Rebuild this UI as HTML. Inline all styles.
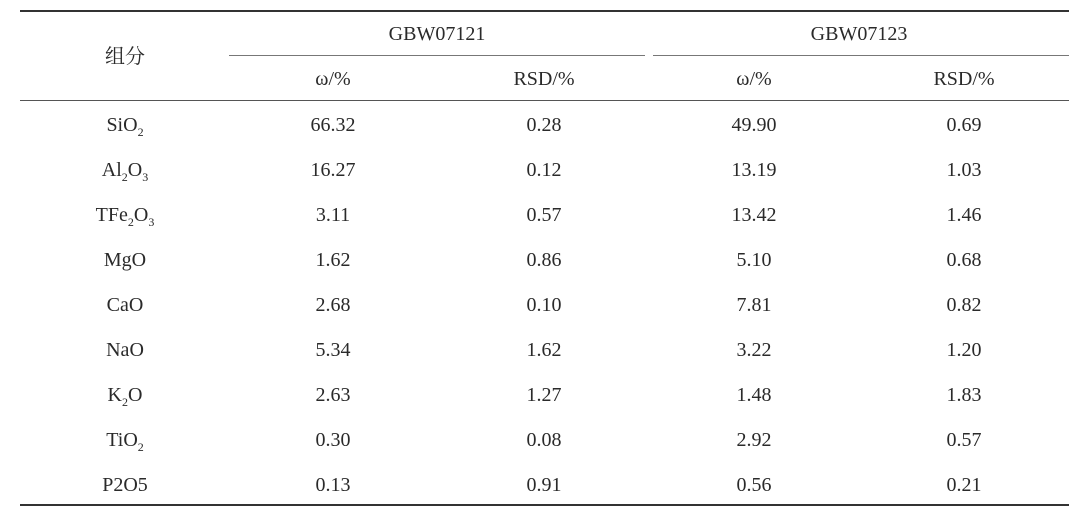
<!DOCTYPE html>
<html><head><meta charset="utf-8"><style>
body{margin:0;width:1080px;height:522px;background:#fff;position:relative;overflow:hidden;font-family:"Liberation Serif","Noto Serif CJK SC",serif;color:#2a2a2a;font-size:20px}
.l{position:absolute;background:#333}
.t{position:absolute;transform:translate(-50%,-50%);white-space:nowrap;line-height:1}
sub{font-size:12px;vertical-align:-5px;line-height:0}
</style></head><body>
<div class="l" style="left:20px;top:10px;width:1049px;height:2px"></div>
<div class="l" style="left:229px;top:55px;width:416px;height:1px;background:#777"></div>
<div class="l" style="left:653px;top:55px;width:416px;height:1px;background:#777"></div>
<div class="l" style="left:20px;top:100px;width:1049px;height:1px;background:#555"></div>
<div class="l" style="left:20px;top:504px;width:1049px;height:2px"></div>
<div class="t" style="left:125px;top:57px">组分</div>
<div class="t" style="left:437px;top:34px">GBW07121</div>
<div class="t" style="left:859px;top:34px">GBW07123</div>
<div class="t" style="left:333px;top:79px">ω/%</div>
<div class="t" style="left:544px;top:79px">RSD/%</div>
<div class="t" style="left:754px;top:79px">ω/%</div>
<div class="t" style="left:964px;top:79px">RSD/%</div>
<div class="t" style="left:125px;top:125px">SiO<sub>2</sub></div><div class="t" style="left:333px;top:125px">66.32</div><div class="t" style="left:544px;top:125px">0.28</div><div class="t" style="left:754px;top:125px">49.90</div><div class="t" style="left:964px;top:125px">0.69</div>
<div class="t" style="left:125px;top:170px">Al<sub>2</sub>O<sub>3</sub></div><div class="t" style="left:333px;top:170px">16.27</div><div class="t" style="left:544px;top:170px">0.12</div><div class="t" style="left:754px;top:170px">13.19</div><div class="t" style="left:964px;top:170px">1.03</div>
<div class="t" style="left:125px;top:215px">TFe<sub>2</sub>O<sub>3</sub></div><div class="t" style="left:333px;top:215px">3.11</div><div class="t" style="left:544px;top:215px">0.57</div><div class="t" style="left:754px;top:215px">13.42</div><div class="t" style="left:964px;top:215px">1.46</div>
<div class="t" style="left:125px;top:260px">MgO</div><div class="t" style="left:333px;top:260px">1.62</div><div class="t" style="left:544px;top:260px">0.86</div><div class="t" style="left:754px;top:260px">5.10</div><div class="t" style="left:964px;top:260px">0.68</div>
<div class="t" style="left:125px;top:305px">CaO</div><div class="t" style="left:333px;top:305px">2.68</div><div class="t" style="left:544px;top:305px">0.10</div><div class="t" style="left:754px;top:305px">7.81</div><div class="t" style="left:964px;top:305px">0.82</div>
<div class="t" style="left:125px;top:350px">NaO</div><div class="t" style="left:333px;top:350px">5.34</div><div class="t" style="left:544px;top:350px">1.62</div><div class="t" style="left:754px;top:350px">3.22</div><div class="t" style="left:964px;top:350px">1.20</div>
<div class="t" style="left:125px;top:395px">K<sub>2</sub>O</div><div class="t" style="left:333px;top:395px">2.63</div><div class="t" style="left:544px;top:395px">1.27</div><div class="t" style="left:754px;top:395px">1.48</div><div class="t" style="left:964px;top:395px">1.83</div>
<div class="t" style="left:125px;top:440px">TiO<sub>2</sub></div><div class="t" style="left:333px;top:440px">0.30</div><div class="t" style="left:544px;top:440px">0.08</div><div class="t" style="left:754px;top:440px">2.92</div><div class="t" style="left:964px;top:440px">0.57</div>
<div class="t" style="left:125px;top:485px">P2O5</div><div class="t" style="left:333px;top:485px">0.13</div><div class="t" style="left:544px;top:485px">0.91</div><div class="t" style="left:754px;top:485px">0.56</div><div class="t" style="left:964px;top:485px">0.21</div>
</body></html>
